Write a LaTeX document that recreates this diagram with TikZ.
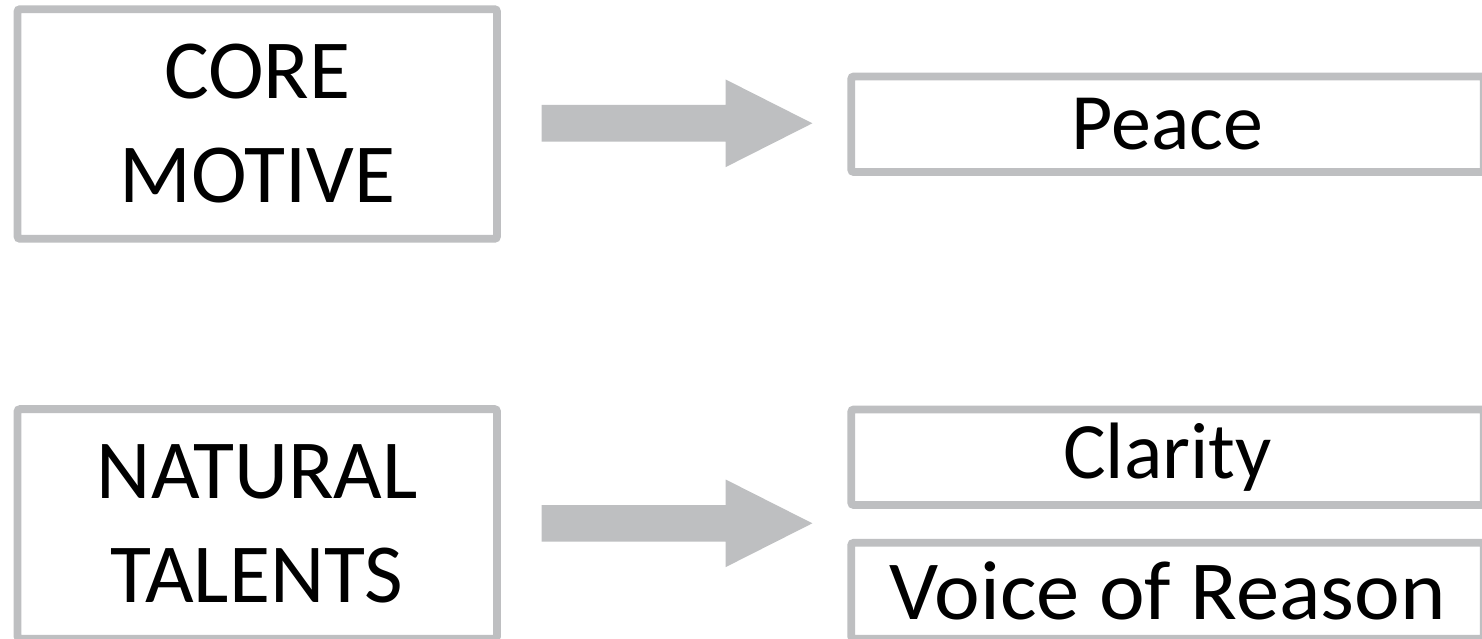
\documentclass[tikz,border=0pt]{standalone}
\usepackage{fontspec}
\setmainfont{Carlito}
\usetikzlibrary{calc}
\definecolor{boxgrey}{RGB}{190,191,193}
\tikzset{
  box/.style={draw=boxgrey, line width=7.8pt, rounded corners=2.5pt, fill=white, inner sep=0pt, text=black},
  bigtext/.style={font=\fontsize{84}{104}\selectfont, align=center},
  smalltext/.style={font=\fontsize{80}{96}\selectfont},
  blockarrow/.style={fill=boxgrey, to path={
    ($(\tikztostart)+(0,18.3)$) -- ($(\tikztotarget)+(-86.7,18.3)$) --
    ($(\tikztotarget)+(-86.7,43.8)$) -- (\tikztotarget) --
    ($(\tikztotarget)+(-86.7,-43.8)$) -- ($(\tikztotarget)+(-86.7,-18.3)$) --
    ($(\tikztostart)+(0,-18.3)$) -- cycle}}
}
\begin{document}
\begin{tikzpicture}[x=1pt,y=-1pt]
\useasboundingbox (0,0) rectangle (1482,639);
\clip (0,0) rectangle (1482,639);
\fill[white] (0,0) rectangle (1482,639);
% left boxes
\node[box, bigtext, minimum width=479.5pt, minimum height=229.6pt] (core) at (257.25,124) {CORE\\MOTIVE};
\node[box, bigtext, minimum width=479.5pt, minimum height=229.6pt] (talents) at (257.25,523.9) {NATURAL\\TALENTS};
% right boxes
\node[box, smalltext, minimum width=632.5pt, minimum height=95.5pt] (peace) at (1167.5,124.25) {Peace};
\node[box, smalltext, minimum width=632.5pt, minimum height=95.5pt] (clarity) at (1167.5,457.25) {Clarity};
\node[box, font=\fontsize{84}{100}\selectfont, minimum width=632.5pt, minimum height=96pt] (voice) at (1167.5,590.8) {\scalebox{1.03}[1]{Voice of Reason}};
% arrows
\coordinate (a1s) at ($(core.east)+(40.7,-0.7)$);
\coordinate (a1e) at ($(peace.west)+(-35,-0.95)$);
\coordinate (a2s) at ($(a1s)+(0,400)$);
\coordinate (a2e) at ($(a1e)+(0,400)$);
\path[blockarrow] (a1s) to (a1e);
\path[blockarrow] (a2s) to (a2e);
\end{tikzpicture}
\end{document}
